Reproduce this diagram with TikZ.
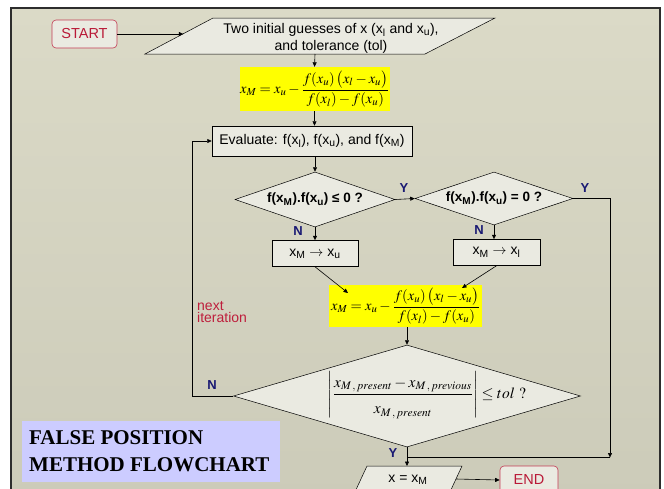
\documentclass[tikz,border=0pt]{standalone}
\usepackage{amsmath}
\usepackage{mathptmx}
\usepackage[no-math]{fontspec}
\setmainfont{Liberation Sans}
\newfontfamily\titlefont{Liberation Serif}
\usetikzlibrary{shapes.geometric,arrows.meta,calc}

\definecolor{slidetop}{RGB}{219,218,199}
\definecolor{slidebot}{RGB}{204,203,185}
\definecolor{frame}{RGB}{45,45,45}
\definecolor{boxfill}{RGB}{234,234,225}
\definecolor{termred}{RGB}{185,25,55}
\definecolor{labelblue}{RGB}{25,25,115}
\definecolor{hilite}{RGB}{255,255,0}
\definecolor{titlebg}{RGB}{204,204,255}
\definecolor{notered}{RGB}{190,30,60}

\tikzset{
  flow/.style={-{Triangle[length=4.5pt,width=4pt]}, line width=0.6pt},
  link/.style={line width=0.6pt},
  proc/.style={draw, fill=boxfill, line width=0.5pt, inner sep=0pt,
               font=\fontsize{14}{15}\selectfont},
  ioshape/.style={draw, fill=boxfill, line width=0.5pt},
  term/.style={draw=termred!85, fill=boxfill, line width=0.6pt, rounded corners=4pt,
               text=termred, inner sep=0pt, font=\fontsize{14.5}{16}\selectfont},
  formula/.style={fill=hilite, inner sep=0pt},
  decision/.style={diamond, draw, fill=boxfill, line width=0.5pt, inner sep=0pt},
  qtext/.style={font=\bfseries\fontsize{13.5}{15}\selectfont},
  yn/.style={text=labelblue, font=\bfseries\fontsize{13}{14}\selectfont},
}

\begin{document}
\begin{tikzpicture}[x=1pt,y=-1pt]
\useasboundingbox (0,0) rectangle (664,488);

% slide background
\fill[white] (0,0) rectangle (664,488);
\shade[top color=slidetop, bottom color=slidebot] (11,8) rectangle (660,500);
\draw[frame, line width=2.6pt] (11,8) rectangle (660,500);

% start and input
\node[term, minimum width=65, minimum height=28] (start) at (84.5,34) {START};
\draw[ioshape] (145,54) -- (213,18) -- (495,18) -- (425,54) -- cycle;
\node[align=center, font=\fontsize{14}{16.5}\selectfont] (inp) at (331,38.5)
  {Two initial guesses of x (x\textsubscript{l} and x\textsubscript{u}),\\ and tolerance (tol)};
\coordinate (inp-in) at (183.3,34);
\coordinate (inp-out) at (315,54);

% first estimate
\node[formula, minimum width=150, minimum height=44] (f1) at (314.5,89)
  {\fontsize{14.5}{16}\selectfont$x_M = x_u - \dfrac{f(x_u)\,\bigl(x_l - x_u\bigr)}{f(x_l) - f(x_u)}$};

% evaluate
\node[proc, minimum width=200, minimum height=30] (eval) at (312,141)
  {Evaluate: f(x\textsubscript{l}), f(x\textsubscript{u}), and f(x\textsubscript{M})};

% decisions
\node[decision, minimum width=160, minimum height=55] (d1) at (315,199.5) {};
\node[qtext] at (d1) {f(x\textsubscript{M}).f(x\textsubscript{u}) ≤ 0 ?};
\node[decision, minimum width=158, minimum height=53] (d2) at (494,198.5) {};
\node[qtext] at (d2) {f(x\textsubscript{M}).f(x\textsubscript{u}) = 0 ?};

% updates
\node[proc, minimum width=86, minimum height=26] (b1) at (315,253.5)
  {x\textsubscript{M} $\rightarrow$ x\textsubscript{u}};
\node[proc, minimum width=87, minimum height=26] (b2) at (496.5,252.5)
  {x\textsubscript{M} $\rightarrow$ x\textsubscript{l}};

% new estimate
\node[formula, minimum width=153, minimum height=42] (f2) at (405.5,306)
  {\fontsize{14.5}{16}\selectfont$x_M = x_u - \dfrac{f(x_u)\,\bigl(x_l - x_u\bigr)}{f(x_l) - f(x_u)}$};
\coordinate (f2-l) at (348,293);
\coordinate (f2-r) at (462,288);

% convergence test
\node[decision, minimum width=347, minimum height=102] (d3) at (407,396) {};
\node at ($(d3)+(20,-1)$) {\fontsize{15.5}{18}\selectfont
  $\left|\dfrac{x_{M\,,\,present} - x_{M\,,\,previous}\rule[-5pt]{0pt}{19pt}}{x_{M\,,\,present}\rule{0pt}{17pt}}\right| \le tol\ ?$};

% output and end
\draw[ioshape] (354,494) -- (367,466) -- (462,466) -- (449,494);
\node[font=\fontsize{14}{15}\selectfont] (out) at (408,480) {x = x\textsubscript{M}};
\coordinate (out-top) at (407,466);
\coordinate (out-right) at (456,479);
\node[term, minimum width=58, minimum height=28] (end) at (529,480) {END};

% connectors
\draw[flow] (start.east) -- (inp-in);
\draw[flow] (inp-out) -- (f1.north);
\draw[flow] (f1.south) -- (f1.south |- eval.north);
\draw[flow] (eval.south -| d1.north) -- (d1.north);
\draw[flow] (d1.east) -- (d2.west);
\draw[flow] (d1.south) -- (b1.north);
\draw[flow] (d2.south) -- (d2.south |- b2.north);
\draw[flow] (b1.south) -- (f2-l);
\draw[flow] (b2.south) -- (f2-r);
\draw[flow] (f2.south -| d3.north) -- (d3.north);
\coordinate (rturn) at (610,198.5);
\coordinate (join) at (610,457.5);
\draw[flow] (d2.east) -- (rturn) -- (join);
\draw[link] (join) -- (d3.south |- join);
\draw[flow] (d3.south) -- (out-top);
\coordinate (lturn-b) at (192,396);
\coordinate (lturn-t) at (192,141);
\draw[flow] (d3.west) -- (lturn-b) -- (lturn-t) -- (eval.west);
\draw[flow] (out-right) -- (end.west);

% branch labels
\node[yn] at (404,188) {Y};
\node[yn] at (585,188) {Y};
\node[yn] at (298,231) {N};
\node[yn] at (479,230) {N};
\node[yn] at (212,385) {N};
\node[yn] at (393,453) {Y};
\node[anchor=west, align=left, text=notered, inner sep=0pt,
      font=\fontsize{14}{12.5}\selectfont] (note) at (197,312) {next\\iteration};

% title
\node[fill=titlebg, minimum width=258, minimum height=61, anchor=north west, inner sep=0pt]
  (titlebox) at (22,421) {};
\node[anchor=west, align=left, inner sep=0pt,
      font=\titlefont\bfseries\fontsize{21}{27}\selectfont] (title) at (29,451.5)
  {FALSE POSITION\\METHOD FLOWCHART};
\end{tikzpicture}
\end{document}
